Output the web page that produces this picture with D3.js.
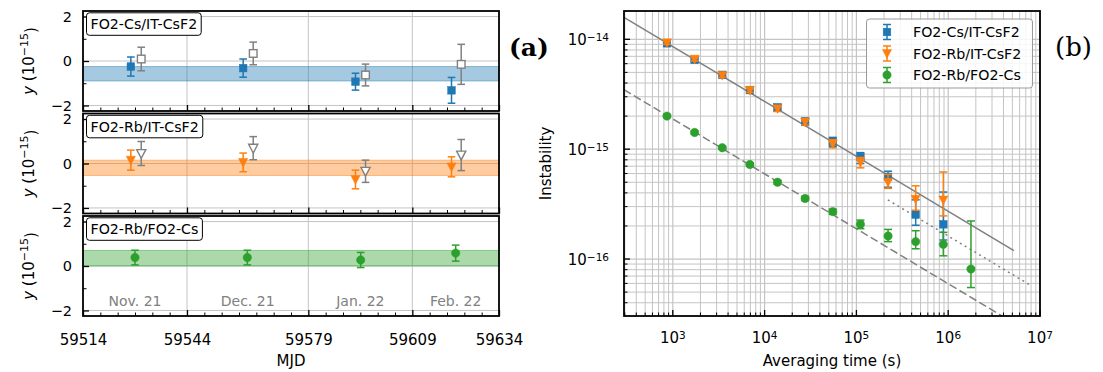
<!DOCTYPE html>
<html><head><meta charset="utf-8">
<script src="https://cdn.jsdelivr.net/npm/d3@7"></script>
<style>
body{margin:0;background:#fff;}
text{font-family:"DejaVu Sans",sans-serif;fill:#000;}
</style>
</head><body>
<svg id="c" width="1103" height="372" xmlns="http://www.w3.org/2000/svg"></svg>
<script>
// ---------------- DATA: left panels (a) ----------------
const panelLabels = ["FO2-Cs/IT-CsF2", "FO2-Rb/IT-CsF2", "FO2-Rb/FO2-Cs"];
const mjdMain = [59527.8, 59560.2, 59592.6, 59620.3];
const mjdRef  = [59530.8, 59563.1, 59595.5, 59623.1];
const mjdRbCs = [59529.0, 59561.4, 59594.1, 59621.5];

const csVal = [-0.25, -0.32, -0.93, -1.32];
const csErr = [0.43, 0.41, 0.38, 0.58];
const csRefVal = [0.09, 0.34, -0.63, -0.15];
const csRefErr = [0.53, 0.51, 0.49, 0.90];
const csBand = [-0.90, -0.25];

const rbVal = [0.15, 0.05, -0.72, -0.15];
const rbErr = [0.45, 0.42, 0.42, 0.45];
const rbRefVal = [0.45, 0.69, -0.35, 0.38];
const rbRefErr = [0.54, 0.52, 0.50, 0.70];
const rbBand = [-0.54, 0.15];

const rbcsVal = [0.38, 0.38, 0.27, 0.58];
const rbcsErr = [0.33, 0.33, 0.34, 0.36];
const rbcsBand = [0.0, 0.70];

const mjdTicks = [59514, 59544, 59579, 59609, 59634];
const monthBounds = [59544, 59579, 59609];
const monthLabels = ["Nov. 21", "Dec. 21", "Jan. 22", "Feb. 22"];
const monthCenters = [59529, 59561.5, 59594, 59621.5];
const yTicksLeft = [-2, 0, 2];

// ---------------- DATA: right panel (b) ----------------
const tau = [864, 1728, 3456, 6912, 13824, 27648, 55296, 110592, 221184, 442368, 884736, 1769472];
const blueDev = [9.2e-15, 6.5e-15, 4.75e-15, 3.45e-15, 2.4e-15, 1.78e-15, 1.17e-15, 8.5e-16, 5.6e-16, 2.54e-16, 2.07e-16];
const blueLo  = [8.9e-15, 6.25e-15, 4.5e-15, 3.25e-15, 2.22e-15, 1.65e-15, 1.06e-15, 7.4e-16, 4.5e-16, 2.03e-16, 1.49e-16];
const blueHi  = [9.5e-15, 6.8e-15, 5.0e-15, 3.65e-15, 2.55e-15, 1.92e-15, 1.28e-15, 9.3e-16, 6.3e-16, 3.46e-16, 4.07e-16];
const orangeDev = [9.3e-15, 6.6e-15, 4.7e-15, 3.44e-15, 2.34e-15, 1.77e-15, 1.12e-15, 7.6e-16, 5.0e-16, 3.5e-16, 3.45e-16];
const orangeLo  = [9.0e-15, 6.35e-15, 4.5e-15, 3.28e-15, 2.2e-15, 1.66e-15, 1.03e-15, 6.76e-16, 4.4e-16, 2.78e-16, 2.47e-16];
const orangeHi  = [9.6e-15, 6.85e-15, 4.9e-15, 3.6e-15, 2.48e-15, 1.88e-15, 1.22e-15, 8.4e-16, 5.89e-16, 4.64e-16, 6.2e-16];
const greenDev = [2.0e-15, 1.42e-15, 1.03e-15, 7.25e-16, 5.0e-16, 3.56e-16, 2.7e-16, 2.07e-16, 1.62e-16, 1.44e-16, 1.36e-16, 8.1e-17];
const greenLo  = [1.95e-15, 1.38e-15, 1.0e-15, 7.0e-16, 4.8e-16, 3.4e-16, 2.55e-16, 1.89e-16, 1.44e-16, 1.24e-16, 1.07e-16, 5.5e-17];
const greenHi  = [2.05e-15, 1.46e-15, 1.06e-15, 7.5e-16, 5.2e-16, 3.72e-16, 2.85e-16, 2.26e-16, 1.86e-16, 1.81e-16, 1.75e-16, 2.22e-16];

// white-frequency-noise guide lines sigma = A / sqrt(tau)
const fitNames  = ["solid", "dashed", "dotted"];
const fitCoef   = [2.72e-13, 5.96e-14, 1.62e-13];
const fitTauMin = [294, 294, 2.2e5];
const fitTauMax = [5.2e6, 5.2e6, 8.1e6];

const legendNames = ["FO2-Cs/IT-CsF2", "FO2-Rb/IT-CsF2", "FO2-Rb/FO2-Cs"];
const xTickExp = [3, 4, 5, 6, 7];
const yTickExp = [-16, -15, -14];

// ---------------- STYLE ----------------
const C_BLUE = "#1f77b4", C_ORANGE = "#ff7f0e", C_GREEN = "#2ca02c", C_GRAY = "#808080";
const GRID = "#c4c4c4";
const svg = d3.select("#c");

function marker(g, shape, cx, cy, fill, stroke, sw) {
  if (shape === "square") {
    const s = 3.8;
    g.append("rect").attr("x", cx - s).attr("y", cy - s).attr("width", 2*s).attr("height", 2*s)
      .attr("fill", fill).attr("stroke", stroke).attr("stroke-width", sw);
  } else if (shape === "tri") {
    const s = 4.6;
    g.append("path").attr("d", `M${cx-s},${cy-s*0.85}L${cx+s},${cy-s*0.85}L${cx},${cy+s*1.05}Z`)
      .attr("fill", fill).attr("stroke", stroke).attr("stroke-width", sw).attr("stroke-linejoin", "miter");
  } else {
    g.append("circle").attr("cx", cx).attr("cy", cy).attr("r", 4.2).attr("fill", fill).attr("stroke", stroke).attr("stroke-width", sw);
  }
}
function errbar(g, cx, y1, y2, color, cap, sw) {
  g.append("line").attr("x1", cx).attr("x2", cx).attr("y1", y1).attr("y2", y2).attr("stroke", color).attr("stroke-width", sw);
  [y1, y2].forEach(yy => g.append("line").attr("x1", cx - cap).attr("x2", cx + cap).attr("y1", yy).attr("y2", yy)
     .attr("stroke", color).attr("stroke-width", sw));
}

// ---------------- LEFT PANELS ----------------
const xL = d3.scaleLinear().domain([59514, 59634]).range([83, 499]);
const panelTops = [11, 113.5, 216];
const panelH = 100;
const minorX = d3.range(59514, 59635, 5);

const panels = [
  {band: csBand, color: C_BLUE, shape: "square", main: [mjdMain, csVal, csErr], ref: [mjdRef, csRefVal, csRefErr]},
  {band: rbBand, color: C_ORANGE, shape: "tri", main: [mjdMain, rbVal, rbErr], ref: [mjdRef, rbRefVal, rbRefErr]},
  {band: rbcsBand, color: C_GREEN, shape: "circle", main: [mjdRbCs, rbcsVal, rbcsErr], ref: null}
];

panels.forEach((p, i) => {
  const top = panelTops[i];
  const y = d3.scaleLinear().domain([-2.25, 2.25]).range([top + panelH, top]);
  const g = svg.append("g");
  // grid
  yTicksLeft.forEach(v => g.append("line").attr("x1", xL.range()[0]).attr("x2", xL.range()[1])
    .attr("y1", y(v)).attr("y2", y(v)).attr("stroke", GRID).attr("stroke-width", 1));
  monthBounds.forEach(v => g.append("line").attr("x1", xL(v)).attr("x2", xL(v))
    .attr("y1", top).attr("y2", top + panelH).attr("stroke", GRID).attr("stroke-width", 1));
  // band
  g.append("rect").attr("x", xL.range()[0]).attr("width", xL.range()[1] - xL.range()[0])
    .attr("y", y(p.band[1])).attr("height", y(p.band[0]) - y(p.band[1]))
    .attr("fill", p.color).attr("fill-opacity", 0.4).attr("stroke", p.color).attr("stroke-opacity", 0.45).attr("stroke-width", 1);
  // month labels
  if (i === 2) {
    monthLabels.forEach((m, k) => g.append("text").attr("x", xL(monthCenters[k])).attr("y", y(-1.56))
      .attr("text-anchor", "middle").attr("dominant-baseline", "central").attr("font-size", "14px")
      .style("fill", C_GRAY).text(m));
  }
  // reference points (open gray)
  if (p.ref) {
    p.ref[0].forEach((mx, k) => {
      const cx = xL(mx), v = p.ref[1][k], e = p.ref[2][k];
      errbar(g, cx, y(v + e), y(v - e), C_GRAY, 3.8, 1.5);
      marker(g, p.shape, cx, y(v), "#fff", C_GRAY, 1.4);
    });
  }
  p.main[0].forEach((mx, k) => {
    const cx = xL(mx), v = p.main[1][k], e = p.main[2][k];
    errbar(g, cx, y(v + e), y(v - e), p.color, 3.8, 1.5);
    marker(g, p.shape, cx, y(v), p.color, p.color, 0.5);
  });
  // ticks (inward)
  const ax = g.append("g").attr("transform", `translate(${xL.range()[0]},0)`)
    .call(d3.axisLeft(y).tickValues(yTicksLeft).tickSize(-6).tickPadding(11).tickFormat(d3.format("d")));
  ax.select(".domain").remove();
  ax.selectAll("line").attr("stroke-width", 1.3);
  ax.selectAll("text").attr("font-size", "14.5px").attr("font-family", "DejaVu Sans");
  const axm = g.append("g").attr("transform", `translate(${xL.range()[0]},0)`)
    .call(d3.axisLeft(y).tickValues([-1, 1]).tickSize(-3.5).tickFormat(""));
  axm.select(".domain").remove();
  const bx = g.append("g").attr("transform", `translate(0,${top + panelH})`)
    .call(d3.axisBottom(xL).tickValues(minorX.filter(v => !mjdTicks.includes(v))).tickSize(-3.5).tickFormat(""));
  bx.select(".domain").remove();
  const bxM = g.append("g").attr("transform", `translate(0,${top + panelH})`)
    .call(d3.axisBottom(xL).tickValues(mjdTicks).tickSize(-6).tickPadding(18)
      .tickFormat(i === 2 ? d3.format("d") : ""));
  bxM.select(".domain").remove();
  bxM.selectAll("line").attr("stroke-width", 1.3);
  bxM.selectAll("text").attr("font-size", "15px").attr("font-family", "DejaVu Sans");
  // frame
  g.append("rect").attr("x", xL.range()[0]).attr("y", top).attr("width", xL.range()[1] - xL.range()[0])
    .attr("height", panelH).attr("fill", "none").attr("stroke", "#000").attr("stroke-width", 1.8);
  // label box
  const lb = g.append("g");
  const t = lb.append("text").attr("x", 90.5).attr("y", top + 18).attr("font-size", "14.2px").text(panelLabels[i]);
  const bb = t.node().getBBox();
  lb.insert("rect", "text").attr("x", bb.x - 4).attr("y", top + 1.8).attr("width", bb.width + 8).attr("height", 22.5)
    .attr("rx", 3).attr("fill", "#fff").attr("stroke", "#000").attr("stroke-width", 1);
  // y label
  const yl = g.append("text").attr("transform", `translate(33.5,${top + 50}) rotate(-90)`)
    .attr("text-anchor", "middle").attr("font-size", "15px");
  yl.append("tspan").attr("font-style", "italic").text("y");
  yl.append("tspan").text(" (10");
  yl.append("tspan").attr("dy", "-0.5em").attr("font-size", "11px").text("−15");
  yl.append("tspan").attr("dy", "0.5em").text(")");
});

svg.append("text").attr("x", 291).attr("y", 366).attr("text-anchor", "middle").attr("font-size", "15px").text("MJD");
svg.append("text").attr("x", 509).attr("y", 47).attr("dominant-baseline", "central")
  .style("font-family", "'DejaVu Serif', serif").attr("font-weight", "bold").attr("font-size", "25px").text("(a)");

// ---------------- RIGHT PANEL ----------------
const X0 = 624, X1 = 1040, Y0 = 11, Y1 = 316;
const xr = d3.scaleLog().domain([294, 1e7]).range([X0, X1]);
const yr = d3.scaleLog().domain([3.03e-17, 1.81e-14]).range([Y1, Y0]);
const gR = svg.append("g");
svg.append("defs").append("clipPath").attr("id", "clipR").append("rect")
  .attr("x", X0).attr("y", Y0).attr("width", X1 - X0).attr("height", Y1 - Y0);

function logTicks(dom) {
  const out = [];
  const lo = Math.floor(Math.log10(dom[0])), hi = Math.ceil(Math.log10(dom[1]));
  for (let e = lo; e <= hi; e++) for (let k = 1; k <= 9; k++) {
    const v = k * Math.pow(10, e);
    if (v >= dom[0] * 0.9999 && v <= dom[1] * 1.0001) out.push({v, major: k === 1});
  }
  return out;
}
const xt = logTicks(xr.domain()), yt = logTicks(yr.domain());
xt.forEach(t => gR.append("line").attr("x1", xr(t.v)).attr("x2", xr(t.v)).attr("y1", Y0).attr("y2", Y1)
  .attr("stroke", GRID).attr("stroke-width", t.major ? 1.2 : 1));
yt.forEach(t => gR.append("line").attr("y1", yr(t.v)).attr("y2", yr(t.v)).attr("x1", X0).attr("x2", X1)
  .attr("stroke", GRID).attr("stroke-width", t.major ? 1.2 : 1));

// fit lines
const dashes = {solid: null, dashed: "8,3.5", dotted: "2,3.6"};
const lineGen = d3.line().x(d => xr(d[0])).y(d => yr(d[1]));
fitNames.forEach((n, i) => {
  const pts = [fitTauMin[i], fitTauMax[i]].map(t => [t, fitCoef[i] / Math.sqrt(t)]);
  gR.append("path").attr("d", lineGen(pts)).attr("clip-path", "url(#clipR)")
    .attr("fill", "none").attr("stroke", C_GRAY).attr("stroke-width", 1.5)
    .attr("stroke-dasharray", dashes[n]);
});

// data series
const series = [
  {dev: blueDev, lo: blueLo, hi: blueHi, color: C_BLUE, shape: "square"},
  {dev: orangeDev, lo: orangeLo, hi: orangeHi, color: C_ORANGE, shape: "tri"},
  {dev: greenDev, lo: greenLo, hi: greenHi, color: C_GREEN, shape: "circle"}
];
series.forEach(s => {
  const gs = gR.append("g").attr("clip-path", "url(#clipR)");
  s.dev.forEach((v, k) => {
    const cx = xr(tau[k]);
    errbar(gs, cx, yr(s.hi[k]), yr(s.lo[k]), s.color, 4, 1.5);
    marker(gs, s.shape, cx, yr(v), s.color, s.color, 0.5);
  });
});

// ticks inward
xt.forEach(t => gR.append("line").attr("x1", xr(t.v)).attr("x2", xr(t.v)).attr("y1", Y1).attr("y2", Y1 - (t.major ? 6 : 3.5))
  .attr("stroke", "#000").attr("stroke-width", t.major ? 1.3 : 1));
yt.forEach(t => gR.append("line").attr("y1", yr(t.v)).attr("y2", yr(t.v)).attr("x1", X0).attr("x2", X0 + (t.major ? 6 : 3.5))
  .attr("stroke", "#000").attr("stroke-width", t.major ? 1.3 : 1));
gR.append("rect").attr("x", X0).attr("y", Y0).attr("width", X1 - X0).attr("height", Y1 - Y0)
  .attr("fill", "none").attr("stroke", "#000").attr("stroke-width", 1.8);

// tick labels
xTickExp.forEach(e => {
  const t = gR.append("text").attr("x", xr(Math.pow(10, e))).attr("y", 343).attr("text-anchor", "middle").attr("font-size", "15px");
  t.append("tspan").text("10");
  t.append("tspan").attr("dy", "-0.42em").attr("font-size", "10.5px").text(String(e));
});
yTickExp.forEach(e => {
  const t = gR.append("text").attr("x", 609).attr("y", yr(Math.pow(10, e)) + 6).attr("text-anchor", "end").attr("font-size", "15px");
  t.append("tspan").text("10");
  t.append("tspan").attr("dy", "-0.42em").attr("font-size", "10.5px").text("−" + String(-e));
});
svg.append("text").attr("x", 832).attr("y", 366).attr("text-anchor", "middle").attr("font-size", "15px").text("Averaging time (s)");
svg.append("text").attr("transform", "translate(551,163.5) rotate(-90)").attr("text-anchor", "middle").attr("font-size", "15px").text("Instability");

// legend
const lg = svg.append("g");
lg.append("rect").attr("x", 866.5).attr("y", 19).attr("width", 166).attr("height", 69).attr("rx", 3)
  .attr("fill", "#fff").attr("fill-opacity", 0.85).attr("stroke", "#999").attr("stroke-width", 1);
legendNames.forEach((n, i) => {
  const yy = 32 + i * 21.5;
  errbar(lg, 887, yy - 7.5, yy + 7.5, series[i].color, 4, 1.5);
  marker(lg, series[i].shape, 887, yy, series[i].color, series[i].color, 0.5);
  lg.append("text").attr("x", 913).attr("y", yy).attr("dominant-baseline", "central").attr("font-size", "14.2px").text(n);
});
svg.append("text").attr("x", 1055).attr("y", 47).attr("dominant-baseline", "central")
  .style("font-family", "'DejaVu Serif', serif").attr("font-size", "26px").text("(b)");
</script>
</body></html>
